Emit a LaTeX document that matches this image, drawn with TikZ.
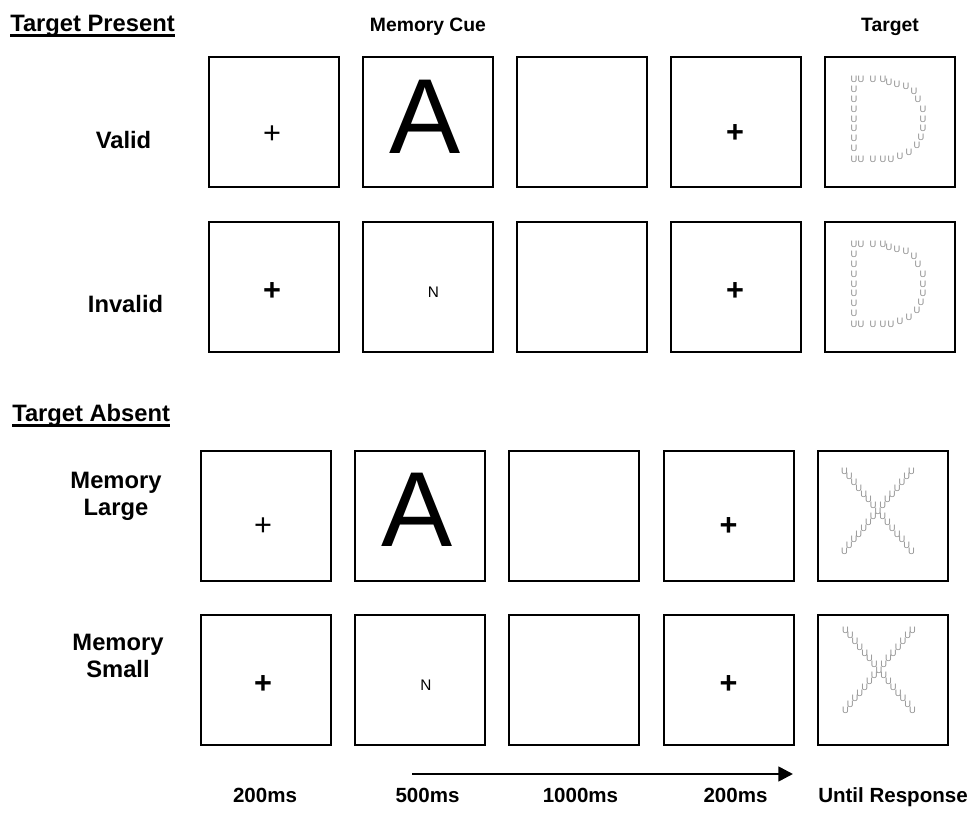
\documentclass[tikz,border=0pt]{standalone}
\usepackage{fontspec}
\setmainfont{Liberation Sans}
\usetikzlibrary{arrows.meta,calc}

% points of the dotted D, from the top left corner of its frame
\newcommand\Dpts{30/23,37/23,49/23,59/23,65/26,73/28,82/30,90/35,94/43,99/53,99/63,99/72,97/81,93/89,85/96,76/100,67/103,59/103,49/103,37/103,30/103,30/92,30/82,30/72,30/63,30/53,30/43,30/33}

\begin{document}
\begin{tikzpicture}[x=0.75pt,y=-0.75pt,>=Triangle,
  frame/.style={draw,line width=1.5pt,minimum size=97.5pt,inner sep=0pt},
  sect/.style={font=\bfseries\fontsize{17.8}{20.3}\selectfont,inner sep=0pt,anchor=base west},
  head/.style={font=\bfseries\fontsize{14.5}{17}\selectfont,inner sep=0pt,anchor=base},
  cond/.style={font=\bfseries\fontsize{17.8}{20.3}\selectfont,inner sep=0pt,align=center},
  time/.style={font=\bfseries\fontsize{15.4}{18}\selectfont,inner sep=0pt,anchor=base},
  fix/.style={font=\fontsize{23}{23}\selectfont,inner sep=0pt},
  fixb/.style={font=\bfseries\fontsize{23}{23}\selectfont,inner sep=0pt},
  cue/.style={font=\fontsize{80}{80}\selectfont,inner sep=0pt},
  cuesmall/.style={font=\fontsize{11.5}{12}\selectfont,inner sep=0pt},
  dotU/.style={font=\fontsize{7}{7}\selectfont,text=black!45,inner sep=0pt}]

\useasboundingbox (0,0) rectangle (976,816);

% frames
\foreach \c/\x in {1/273.5,2/427.5,3/581.5,4/735.5,5/889.5}{
  \node[frame] (b1\c) at (\x,122) {};
  \node[frame] (b2\c) at (\x,287) {};
}
\foreach \c/\x in {1/266,2/420,3/574,4/728.5,5/882.5}{
  \node[frame] (b3\c) at (\x,516) {};
  \node[frame] (b4\c) at (\x,680) {};
}

% headings
\node[sect] (tp) at (10,32) {Target Present};
\draw[line width=2.2pt] ($(tp.base west)+(0,3.5)$) -- ($(tp.base east)+(0,3.5)$);
\node[sect] (ta) at (12,422) {Target Absent};
\draw[line width=2.2pt] ($(ta.base west)+(0,3.5)$) -- ($(ta.base east)+(0,3.5)$);
\node[head] (hcue) at (428,32) {Memory Cue};
\node[head] (htgt) at (890,32) {Target};

% conditions
\node[cond,anchor=base] (valid) at (123.5,149) {Valid};
\node[cond,anchor=base] (invalid) at (125.5,313) {Invalid};
\node[cond] (mlarge) at (116,496) {Memory\\Large};
\node[cond] (msmall) at (118,656) {Memory\\Small};

% fixation crosses
\node[fix] (p11) at ($(b11)+(-1.5,13)$) {+};
\node[fixb] (p14) at ($(b14)+(-0.5,12)$) {+};
\node[fixb] (p21) at ($(b21)+(-1.5,5)$) {+};
\node[fixb] (p24) at ($(b24)+(-0.5,5)$) {+};
\node[fix] (p31) at ($(b31)+(-3,11)$) {+};
\node[fixb] (p34) at ($(b34)+(0,11)$) {+};
\node[fixb] (p41) at ($(b41)+(-3,5)$) {+};
\node[fixb] (p44) at ($(b44)+(0,5)$) {+};

% memory cues
\node[cue] (a12) at ($(b12)+(-2.5,-5.5)$) {A};
\node[cue] (a32) at ($(b32)+(-2.5,-6)$) {A};
\node[cuesmall] (n22) at ($(b22)+(6,5)$) {N};
\node[cuesmall] (n42) at ($(b42)+(6,5)$) {N};

% targets made of small U
\foreach \u/\v [count=\k] in \Dpts {
  \node[dotU] (dA\k) at ($(b15)+(\u-65.5,\v-65.5)$) {U};
  \node[dotU] (dB\k) at ($(b25)+(\u-65.5,\v-65.5)$) {U};
}
\foreach \k in {0,...,14}{
  \node[dotU] (xA\k) at ($(b35)+(28-66+67*\k/14,21-66+80*\k/14)$) {U};
  \node[dotU] (xC\k) at ($(b45)+(29-66+67*\k/14,16-66+80*\k/14)$) {U};
}
\foreach \k in {0,...,6,8,9,...,14}{
  \node[dotU] (xB\k) at ($(b35)+(95-66-67*\k/14,21-66+80*\k/14)$) {U};
  \node[dotU] (xD\k) at ($(b45)+(96-66-67*\k/14,16-66+80*\k/14)$) {U};
}

% time line
\coordinate (t0) at (412,774);
\coordinate (t1) at (793,774);
\draw[line width=2pt,-{Triangle[length=11pt,width=11pt]}] (t0) -- (t1);
\node[time] (d1) at (265,802) {200ms};
\node[time] (d2) at (427.5,802) {500ms};
\node[time] (d3) at (580.5,802) {1000ms};
\node[time] (d4) at (735.5,802) {200ms};
\node[time] (d5) at (893,802) {Until Response};
\end{tikzpicture}
\end{document}
